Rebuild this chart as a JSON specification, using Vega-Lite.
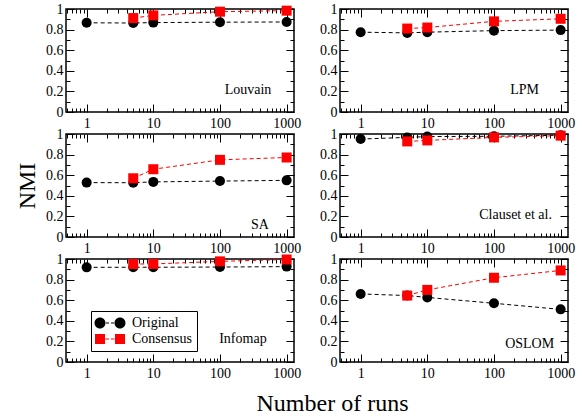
{
"$schema":"https://vega.github.io/schema/vega-lite/v6.json",
"background":"white",
"padding":{"left":14,"top":1,"right":5,"bottom":5},
"data":{"values":[
{"method":"Louvain","series":"Original","runs":1,"nmi":0.866},
{"method":"Louvain","series":"Original","runs":5,"nmi":0.864},
{"method":"Louvain","series":"Original","runs":10,"nmi":0.868},
{"method":"Louvain","series":"Original","runs":100,"nmi":0.872},
{"method":"Louvain","series":"Original","runs":1000,"nmi":0.874},
{"method":"Louvain","series":"Consensus","runs":5,"nmi":0.912},
{"method":"Louvain","series":"Consensus","runs":10,"nmi":0.938},
{"method":"Louvain","series":"Consensus","runs":100,"nmi":0.974},
{"method":"Louvain","series":"Consensus","runs":1000,"nmi":0.984},
{"method":"LPM","series":"Original","runs":1,"nmi":0.775},
{"method":"LPM","series":"Original","runs":5,"nmi":0.768},
{"method":"LPM","series":"Original","runs":10,"nmi":0.775},
{"method":"LPM","series":"Original","runs":100,"nmi":0.79},
{"method":"LPM","series":"Original","runs":1000,"nmi":0.795},
{"method":"LPM","series":"Consensus","runs":5,"nmi":0.81},
{"method":"LPM","series":"Consensus","runs":10,"nmi":0.82},
{"method":"LPM","series":"Consensus","runs":100,"nmi":0.88},
{"method":"LPM","series":"Consensus","runs":1000,"nmi":0.905},
{"method":"SA","series":"Original","runs":1,"nmi":0.528},
{"method":"SA","series":"Original","runs":5,"nmi":0.527},
{"method":"SA","series":"Original","runs":10,"nmi":0.535},
{"method":"SA","series":"Original","runs":100,"nmi":0.543},
{"method":"SA","series":"Original","runs":1000,"nmi":0.55},
{"method":"SA","series":"Consensus","runs":5,"nmi":0.57},
{"method":"SA","series":"Consensus","runs":10,"nmi":0.658},
{"method":"SA","series":"Consensus","runs":100,"nmi":0.749},
{"method":"SA","series":"Consensus","runs":1000,"nmi":0.772},
{"method":"Clauset","series":"Original","runs":1,"nmi":0.951},
{"method":"Clauset","series":"Original","runs":5,"nmi":0.967},
{"method":"Clauset","series":"Original","runs":10,"nmi":0.975},
{"method":"Clauset","series":"Original","runs":100,"nmi":0.978},
{"method":"Clauset","series":"Original","runs":1000,"nmi":0.988},
{"method":"Clauset","series":"Consensus","runs":5,"nmi":0.928},
{"method":"Clauset","series":"Consensus","runs":10,"nmi":0.938},
{"method":"Clauset","series":"Consensus","runs":100,"nmi":0.967},
{"method":"Clauset","series":"Consensus","runs":1000,"nmi":0.984},
{"method":"Infomap","series":"Original","runs":1,"nmi":0.919},
{"method":"Infomap","series":"Original","runs":5,"nmi":0.92},
{"method":"Infomap","series":"Original","runs":10,"nmi":0.92},
{"method":"Infomap","series":"Original","runs":100,"nmi":0.922},
{"method":"Infomap","series":"Original","runs":1000,"nmi":0.926},
{"method":"Infomap","series":"Consensus","runs":5,"nmi":0.951},
{"method":"Infomap","series":"Consensus","runs":10,"nmi":0.952},
{"method":"Infomap","series":"Consensus","runs":100,"nmi":0.977},
{"method":"Infomap","series":"Consensus","runs":1000,"nmi":0.995},
{"method":"OSLOM","series":"Original","runs":1,"nmi":0.661},
{"method":"OSLOM","series":"Original","runs":5,"nmi":0.645},
{"method":"OSLOM","series":"Original","runs":10,"nmi":0.627},
{"method":"OSLOM","series":"Original","runs":100,"nmi":0.57},
{"method":"OSLOM","series":"Original","runs":1000,"nmi":0.511},
{"method":"OSLOM","series":"Consensus","runs":5,"nmi":0.645},
{"method":"OSLOM","series":"Consensus","runs":10,"nmi":0.70},
{"method":"OSLOM","series":"Consensus","runs":100,"nmi":0.818},
{"method":"OSLOM","series":"Consensus","runs":1000,"nmi":0.889}
]},
"columns":2,
"spacing":{"row":22,"column":46},
"bounds":"flush",
"concat":[
{"width":228,"height":103,
 "layer":[
  {"transform":[{"filter":"datum.method == 'Louvain'"}],
   "mark":{"type":"line","strokeDash":[4,3],"strokeWidth":1},
   "encoding":{
    "x":{"field":"runs","type":"quantitative","scale":{"type":"log","domain":[0.49,1290],"nice":false},"axis":{"orient":"bottom","title":null,"values":[0.5,0.6,0.7,0.8,0.9,1,2,3,4,5,6,7,8,9,10,20,30,40,50,60,70,80,90,100,200,300,400,500,600,700,800,900,1000],"tickSize":{"condition":{"test":"indexof([1,10,100,1000], datum.value) >= 0","value":-8},"value":-4},"labelExpr":"indexof([1,10,100,1000], datum.value) >= 0 ? datum.label : ''","format":"~g","labelPadding":12}},
    "y":{"field":"nmi","type":"quantitative","scale":{"domain":[0,1],"nice":false},"axis":{"orient":"left","title":null,"values":[0,0.1,0.2,0.3,0.4,0.5,0.6,0.7,0.8,0.9,1],"tickSize":{"condition":{"test":"indexof([0,0.2,0.4,0.6,0.8,1], datum.value) >= 0","value":-8},"value":-4},"labelExpr":"indexof([0,0.2,0.4,0.6,0.8,1], datum.value) >= 0 ? datum.label : ''","format":"~g","labelPadding":11}},
    "detail":{"field":"series","type":"nominal"},
    "stroke":{"condition":{"test":"datum.series == 'Consensus'","value":"#ff0000"},"value":"#000000"}}},
  {"transform":[{"filter":"datum.method == 'Louvain'"}],
   "mark":{"type":"point","filled":true,"opacity":1,"size":100},
   "encoding":{
    "x":{"field":"runs","type":"quantitative","axis":{"orient":"top","title":null,"labels":false,"values":[0.5,0.6,0.7,0.8,0.9,1,2,3,4,5,6,7,8,9,10,20,30,40,50,60,70,80,90,100,200,300,400,500,600,700,800,900,1000],"tickSize":{"condition":{"test":"indexof([1,10,100,1000], datum.value) >= 0","value":-8},"value":-4}}},
    "y":{"field":"nmi","type":"quantitative","axis":{"orient":"right","title":null,"labels":false,"values":[0,0.1,0.2,0.3,0.4,0.5,0.6,0.7,0.8,0.9,1],"tickSize":{"condition":{"test":"indexof([0,0.2,0.4,0.6,0.8,1], datum.value) >= 0","value":-8},"value":-4}}},
    "color":{"field":"series","type":"nominal","scale":{"domain":["Original","Consensus"],"range":["#000000","#ff0000"]}},
    "shape":{"condition":{"test":"datum.series == 'Consensus'","value":"square"},"value":"circle"}}},
  {"data":{"values":[{"name":"Louvain"}]},
   "mark":{"type":"text","font":"Liberation Serif","fontSize":14,"color":"black"},
   "encoding":{"text":{"field":"name"},"x":{"datum":263,"axis":null},"y":{"datum":0.21,"axis":null}}}
 ],
 "resolve":{"axis":{"x":"independent","y":"independent"}}},
{"width":228,"height":103,
 "layer":[
  {"transform":[{"filter":"datum.method == 'LPM'"}],
   "mark":{"type":"line","strokeDash":[4,3],"strokeWidth":1},
   "encoding":{
    "x":{"field":"runs","type":"quantitative","scale":{"type":"log","domain":[0.49,1290],"nice":false},"axis":{"orient":"bottom","title":null,"values":[0.5,0.6,0.7,0.8,0.9,1,2,3,4,5,6,7,8,9,10,20,30,40,50,60,70,80,90,100,200,300,400,500,600,700,800,900,1000],"tickSize":{"condition":{"test":"indexof([1,10,100,1000], datum.value) >= 0","value":-8},"value":-4},"labelExpr":"indexof([1,10,100,1000], datum.value) >= 0 ? datum.label : ''","format":"~g","labelPadding":12}},
    "y":{"field":"nmi","type":"quantitative","scale":{"domain":[0,1],"nice":false},"axis":{"orient":"left","title":null,"values":[0,0.1,0.2,0.3,0.4,0.5,0.6,0.7,0.8,0.9,1],"tickSize":{"condition":{"test":"indexof([0,0.2,0.4,0.6,0.8,1], datum.value) >= 0","value":-8},"value":-4},"labelExpr":"indexof([0,0.2,0.4,0.6,0.8,1], datum.value) >= 0 ? datum.label : ''","format":"~g","labelPadding":11}},
    "detail":{"field":"series","type":"nominal"},
    "stroke":{"condition":{"test":"datum.series == 'Consensus'","value":"#ff0000"},"value":"#000000"}}},
  {"transform":[{"filter":"datum.method == 'LPM'"}],
   "mark":{"type":"point","filled":true,"opacity":1,"size":100},
   "encoding":{
    "x":{"field":"runs","type":"quantitative","axis":{"orient":"top","title":null,"labels":false,"values":[0.5,0.6,0.7,0.8,0.9,1,2,3,4,5,6,7,8,9,10,20,30,40,50,60,70,80,90,100,200,300,400,500,600,700,800,900,1000],"tickSize":{"condition":{"test":"indexof([1,10,100,1000], datum.value) >= 0","value":-8},"value":-4}}},
    "y":{"field":"nmi","type":"quantitative","axis":{"orient":"right","title":null,"labels":false,"values":[0,0.1,0.2,0.3,0.4,0.5,0.6,0.7,0.8,0.9,1],"tickSize":{"condition":{"test":"indexof([0,0.2,0.4,0.6,0.8,1], datum.value) >= 0","value":-8},"value":-4}}},
    "color":{"field":"series","type":"nominal"},
    "shape":{"condition":{"test":"datum.series == 'Consensus'","value":"square"},"value":"circle"}}},
  {"data":{"values":[{"name":"LPM"}]},
   "mark":{"type":"text","font":"Liberation Serif","fontSize":14,"color":"black"},
   "encoding":{"text":{"field":"name"},"x":{"datum":288,"axis":null},"y":{"datum":0.218,"axis":null}}}
 ],
 "resolve":{"axis":{"x":"independent","y":"independent"}}},
{"width":228,"height":103,
 "layer":[
  {"transform":[{"filter":"datum.method == 'SA'"}],
   "mark":{"type":"line","strokeDash":[4,3],"strokeWidth":1},
   "encoding":{
    "x":{"field":"runs","type":"quantitative","scale":{"type":"log","domain":[0.49,1290],"nice":false},"axis":{"orient":"bottom","title":null,"values":[0.5,0.6,0.7,0.8,0.9,1,2,3,4,5,6,7,8,9,10,20,30,40,50,60,70,80,90,100,200,300,400,500,600,700,800,900,1000],"tickSize":{"condition":{"test":"indexof([1,10,100,1000], datum.value) >= 0","value":-8},"value":-4},"labelExpr":"indexof([1,10,100,1000], datum.value) >= 0 ? datum.label : ''","format":"~g","labelPadding":12}},
    "y":{"field":"nmi","type":"quantitative","scale":{"domain":[0,1],"nice":false},"axis":{"orient":"left","title":"NMI","titlePadding":6,"values":[0,0.1,0.2,0.3,0.4,0.5,0.6,0.7,0.8,0.9,1],"tickSize":{"condition":{"test":"indexof([0,0.2,0.4,0.6,0.8,1], datum.value) >= 0","value":-8},"value":-4},"labelExpr":"indexof([0,0.2,0.4,0.6,0.8,1], datum.value) >= 0 ? datum.label : ''","format":"~g","labelPadding":11}},
    "detail":{"field":"series","type":"nominal"},
    "stroke":{"condition":{"test":"datum.series == 'Consensus'","value":"#ff0000"},"value":"#000000"}}},
  {"transform":[{"filter":"datum.method == 'SA'"}],
   "mark":{"type":"point","filled":true,"opacity":1,"size":100},
   "encoding":{
    "x":{"field":"runs","type":"quantitative","axis":{"orient":"top","title":null,"labels":false,"values":[0.5,0.6,0.7,0.8,0.9,1,2,3,4,5,6,7,8,9,10,20,30,40,50,60,70,80,90,100,200,300,400,500,600,700,800,900,1000],"tickSize":{"condition":{"test":"indexof([1,10,100,1000], datum.value) >= 0","value":-8},"value":-4}}},
    "y":{"field":"nmi","type":"quantitative","axis":{"orient":"right","title":null,"labels":false,"values":[0,0.1,0.2,0.3,0.4,0.5,0.6,0.7,0.8,0.9,1],"tickSize":{"condition":{"test":"indexof([0,0.2,0.4,0.6,0.8,1], datum.value) >= 0","value":-8},"value":-4}}},
    "color":{"field":"series","type":"nominal"},
    "shape":{"condition":{"test":"datum.series == 'Consensus'","value":"square"},"value":"circle"}}},
  {"data":{"values":[{"name":"SA"}]},
   "mark":{"type":"text","font":"Liberation Serif","fontSize":14,"color":"black"},
   "encoding":{"text":{"field":"name"},"x":{"datum":398,"axis":null},"y":{"datum":0.117,"axis":null}}}
 ],
 "resolve":{"axis":{"x":"independent","y":"independent"}}},
{"width":228,"height":103,
 "layer":[
  {"transform":[{"filter":"datum.method == 'Clauset'"}],
   "mark":{"type":"line","strokeDash":[4,3],"strokeWidth":1},
   "encoding":{
    "x":{"field":"runs","type":"quantitative","scale":{"type":"log","domain":[0.49,1290],"nice":false},"axis":{"orient":"bottom","title":null,"values":[0.5,0.6,0.7,0.8,0.9,1,2,3,4,5,6,7,8,9,10,20,30,40,50,60,70,80,90,100,200,300,400,500,600,700,800,900,1000],"tickSize":{"condition":{"test":"indexof([1,10,100,1000], datum.value) >= 0","value":-8},"value":-4},"labelExpr":"indexof([1,10,100,1000], datum.value) >= 0 ? datum.label : ''","format":"~g","labelPadding":12}},
    "y":{"field":"nmi","type":"quantitative","scale":{"domain":[0,1],"nice":false},"axis":{"orient":"left","title":null,"values":[0,0.1,0.2,0.3,0.4,0.5,0.6,0.7,0.8,0.9,1],"tickSize":{"condition":{"test":"indexof([0,0.2,0.4,0.6,0.8,1], datum.value) >= 0","value":-8},"value":-4},"labelExpr":"indexof([0,0.2,0.4,0.6,0.8,1], datum.value) >= 0 ? datum.label : ''","format":"~g","labelPadding":11}},
    "detail":{"field":"series","type":"nominal"},
    "stroke":{"condition":{"test":"datum.series == 'Consensus'","value":"#ff0000"},"value":"#000000"}}},
  {"transform":[{"filter":"datum.method == 'Clauset'"}],
   "mark":{"type":"point","filled":true,"opacity":1,"size":100},
   "encoding":{
    "x":{"field":"runs","type":"quantitative","axis":{"orient":"top","title":null,"labels":false,"values":[0.5,0.6,0.7,0.8,0.9,1,2,3,4,5,6,7,8,9,10,20,30,40,50,60,70,80,90,100,200,300,400,500,600,700,800,900,1000],"tickSize":{"condition":{"test":"indexof([1,10,100,1000], datum.value) >= 0","value":-8},"value":-4}}},
    "y":{"field":"nmi","type":"quantitative","axis":{"orient":"right","title":null,"labels":false,"values":[0,0.1,0.2,0.3,0.4,0.5,0.6,0.7,0.8,0.9,1],"tickSize":{"condition":{"test":"indexof([0,0.2,0.4,0.6,0.8,1], datum.value) >= 0","value":-8},"value":-4}}},
    "color":{"field":"series","type":"nominal"},
    "shape":{"condition":{"test":"datum.series == 'Consensus'","value":"square"},"value":"circle"}}},
  {"data":{"values":[{"name":"Clauset et al."}]},
   "mark":{"type":"text","font":"Liberation Serif","fontSize":14,"color":"black"},
   "encoding":{"text":{"field":"name"},"x":{"datum":211,"axis":null},"y":{"datum":0.21,"axis":null}}}
 ],
 "resolve":{"axis":{"x":"independent","y":"independent"}}},
{"width":228,"height":103,
 "layer":[
  {"transform":[{"filter":"datum.method == 'Infomap'"}],
   "mark":{"type":"line","strokeDash":[4,3],"strokeWidth":1},
   "encoding":{
    "x":{"field":"runs","type":"quantitative","scale":{"type":"log","domain":[0.49,1290],"nice":false},"axis":{"orient":"bottom","title":"Number of runs","titleX":266,"titleY":29,"titleFontSize":24,"values":[0.5,0.6,0.7,0.8,0.9,1,2,3,4,5,6,7,8,9,10,20,30,40,50,60,70,80,90,100,200,300,400,500,600,700,800,900,1000],"tickSize":{"condition":{"test":"indexof([1,10,100,1000], datum.value) >= 0","value":-8},"value":-4},"labelExpr":"indexof([1,10,100,1000], datum.value) >= 0 ? datum.label : ''","format":"~g","labelPadding":12}},
    "y":{"field":"nmi","type":"quantitative","scale":{"domain":[0,1],"nice":false},"axis":{"orient":"left","title":null,"values":[0,0.1,0.2,0.3,0.4,0.5,0.6,0.7,0.8,0.9,1],"tickSize":{"condition":{"test":"indexof([0,0.2,0.4,0.6,0.8,1], datum.value) >= 0","value":-8},"value":-4},"labelExpr":"indexof([0,0.2,0.4,0.6,0.8,1], datum.value) >= 0 ? datum.label : ''","format":"~g","labelPadding":11}},
    "detail":{"field":"series","type":"nominal"},
    "stroke":{"condition":{"test":"datum.series == 'Consensus'","value":"#ff0000"},"value":"#000000"}}},
  {"transform":[{"filter":"datum.method == 'Infomap'"}],
   "mark":{"type":"point","filled":true,"opacity":1,"size":100},
   "encoding":{
    "x":{"field":"runs","type":"quantitative","axis":{"orient":"top","title":null,"labels":false,"values":[0.5,0.6,0.7,0.8,0.9,1,2,3,4,5,6,7,8,9,10,20,30,40,50,60,70,80,90,100,200,300,400,500,600,700,800,900,1000],"tickSize":{"condition":{"test":"indexof([1,10,100,1000], datum.value) >= 0","value":-8},"value":-4}}},
    "y":{"field":"nmi","type":"quantitative","axis":{"orient":"right","title":null,"labels":false,"values":[0,0.1,0.2,0.3,0.4,0.5,0.6,0.7,0.8,0.9,1],"tickSize":{"condition":{"test":"indexof([0,0.2,0.4,0.6,0.8,1], datum.value) >= 0","value":-8},"value":-4}}},
    "color":{"field":"series","type":"nominal","legend":{"orient":"none","legendX":25,"legendY":302,"title":null,"direction":"vertical","strokeColor":"black","fillColor":"white","padding":5,"cornerRadius":0,"labelFont":"Liberation Serif","labelFontSize":14,"labelColor":"black","labelOffset":22,"rowPadding":2,"symbolSize":100,"symbolStrokeWidth":0,"symbolType":{"expr":"datum.value == 'Original' ? 'M-1.7,0 a1.1,1.1 0 1,0 2.2,0 a1.1,1.1 0 1,0 -2.2,0 Z M2.3,0 a1.1,1.1 0 1,0 2.2,0 a1.1,1.1 0 1,0 -2.2,0 Z M0.6,-0.12 h0.6 v0.24 h-0.6 Z M1.6,-0.12 h0.6 v0.24 h-0.6 Z' : 'M-1.6,-1 h2 v2 h-2 Z M2.4,-1 h2 v2 h-2 Z M0.5,-0.12 h0.7 v0.24 h-0.7 Z M1.6,-0.12 h0.7 v0.24 h-0.7 Z'"}}},
    "shape":{"condition":{"test":"datum.series == 'Consensus'","value":"square"},"value":"circle"}}},
  {"data":{"values":[{"name":"Infomap"}]},
   "mark":{"type":"text","font":"Liberation Serif","fontSize":14,"color":"black"},
   "encoding":{"text":{"field":"name"},"x":{"datum":221,"axis":null},"y":{"datum":0.228,"axis":null}}}
 ],
 "resolve":{"axis":{"x":"independent","y":"independent"}}},
{"width":228,"height":103,
 "layer":[
  {"transform":[{"filter":"datum.method == 'OSLOM'"}],
   "mark":{"type":"line","strokeDash":[4,3],"strokeWidth":1},
   "encoding":{
    "x":{"field":"runs","type":"quantitative","scale":{"type":"log","domain":[0.49,1290],"nice":false},"axis":{"orient":"bottom","title":null,"values":[0.5,0.6,0.7,0.8,0.9,1,2,3,4,5,6,7,8,9,10,20,30,40,50,60,70,80,90,100,200,300,400,500,600,700,800,900,1000],"tickSize":{"condition":{"test":"indexof([1,10,100,1000], datum.value) >= 0","value":-8},"value":-4},"labelExpr":"indexof([1,10,100,1000], datum.value) >= 0 ? datum.label : ''","format":"~g","labelPadding":12}},
    "y":{"field":"nmi","type":"quantitative","scale":{"domain":[0,1],"nice":false},"axis":{"orient":"left","title":null,"values":[0,0.1,0.2,0.3,0.4,0.5,0.6,0.7,0.8,0.9,1],"tickSize":{"condition":{"test":"indexof([0,0.2,0.4,0.6,0.8,1], datum.value) >= 0","value":-8},"value":-4},"labelExpr":"indexof([0,0.2,0.4,0.6,0.8,1], datum.value) >= 0 ? datum.label : ''","format":"~g","labelPadding":11}},
    "detail":{"field":"series","type":"nominal"},
    "stroke":{"condition":{"test":"datum.series == 'Consensus'","value":"#ff0000"},"value":"#000000"}}},
  {"transform":[{"filter":"datum.method == 'OSLOM'"}],
   "mark":{"type":"point","filled":true,"opacity":1,"size":100},
   "encoding":{
    "x":{"field":"runs","type":"quantitative","axis":{"orient":"top","title":null,"labels":false,"values":[0.5,0.6,0.7,0.8,0.9,1,2,3,4,5,6,7,8,9,10,20,30,40,50,60,70,80,90,100,200,300,400,500,600,700,800,900,1000],"tickSize":{"condition":{"test":"indexof([1,10,100,1000], datum.value) >= 0","value":-8},"value":-4}}},
    "y":{"field":"nmi","type":"quantitative","axis":{"orient":"right","title":null,"labels":false,"values":[0,0.1,0.2,0.3,0.4,0.5,0.6,0.7,0.8,0.9,1],"tickSize":{"condition":{"test":"indexof([0,0.2,0.4,0.6,0.8,1], datum.value) >= 0","value":-8},"value":-4}}},
    "color":{"field":"series","type":"nominal"},
    "shape":{"condition":{"test":"datum.series == 'Consensus'","value":"square"},"value":"circle"}}},
  {"data":{"values":[{"name":"OSLOM"}]},
   "mark":{"type":"text","font":"Liberation Serif","fontSize":14,"color":"black"},
   "encoding":{"text":{"field":"name"},"x":{"datum":343,"axis":null},"y":{"datum":0.176,"axis":null}}}
 ],
 "resolve":{"axis":{"x":"independent","y":"independent"}}}
],
"config":{
 "view":{"stroke":"black","strokeWidth":1.5},
 "axis":{"domain":false,"grid":false,"tickColor":"black","tickWidth":1,"labelFont":"Liberation Serif","labelFontSize":14,"labelColor":"black","labelFlush":false,"labelOverlap":false,"labelBound":false,"titleFont":"Liberation Serif","titleFontSize":24,"titleFontWeight":"normal","titleColor":"black"},
 "legend":{"labelFont":"Liberation Serif","labelFontSize":14}
}
}
